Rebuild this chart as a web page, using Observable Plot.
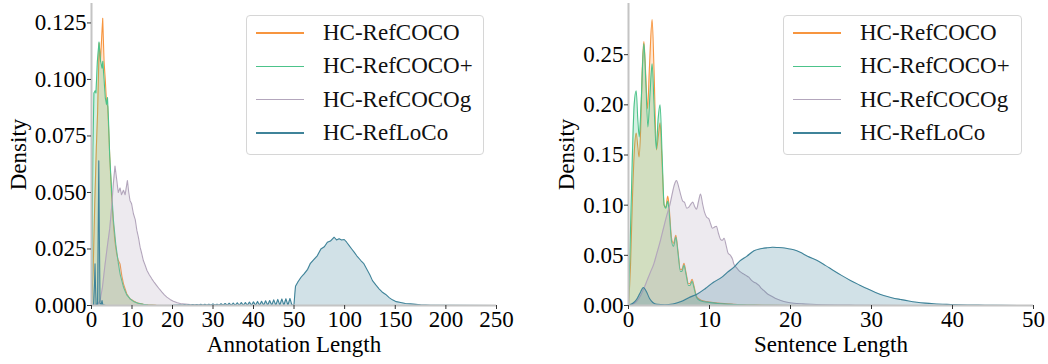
<!DOCTYPE html>
<html>
<head>
<meta charset="utf-8">
<script src="https://cdn.jsdelivr.net/npm/d3@7"></script>
<script src="https://cdn.jsdelivr.net/npm/@observablehq/plot@0.6"></script>
<style>
  html, body { margin: 0; padding: 0; background: #fff; }
  #wrap { position: relative; width: 1048px; height: 364px; display: flex; font-family: "Liberation Serif", "Times New Roman", serif; }
  .legend { position: absolute; top: 15px; height: 140px; border: 1px solid #d6d6d6; border-radius: 4px; background: rgba(255,255,255,0.85); box-sizing: border-box; }
  .row { position: absolute; left: 0; height: 33px; display: flex; align-items: center; font-size: 23px; color: #111; white-space: nowrap; }
  .swatch { width: 48px; height: 1.5px; margin-left: 9px; margin-right: 19px; }
</style>
</head>
<body>
<div id="wrap"></div>
<script>
// ---------- series ----------
const seriesNames = ["HC-RefCOCO", "HC-RefCOCO+", "HC-RefCOCOg", "HC-RefLoCo"];
const seriesColors = ["#F7953F", "#4CC38A", "#B3A6BC", "#3F8399"];

// ---------- Annotation Length (left panel) : [length, density] ----------
const annoRefCOCO = [[0,0],[0.4,0.015],[0.8,0.045],[1.2,0.07],[1.5,0.085],[1.9,0.116],[2.2,0.108],[2.5,0.118],[2.77,0.127],[3.1,0.108],[3.4,0.1],[3.7,0.09],[4.0,0.088],[4.3,0.075],[4.6,0.062],[5.0,0.047],[5.4,0.036],[5.8,0.028],[6.2,0.023],[6.6,0.02],[7.05,0.0184],[7.5,0.013],[7.9,0.0096],[8.7,0.0052],[9.5,0.003],[10.4,0.002],[11.2,0.0012],[12.8,0.0005],[14,0.0003],[16,0.0001],[20,0]];
const annoRefCOCOPlus = [[0,0],[0.15,0.03],[0.35,0.07],[0.6,0.094],[0.9,0.095],[1.1,0.094],[1.45,0.108],[1.85,0.1165],[2.25,0.108],[2.6,0.105],[2.8,0.108],[3.1,0.1],[3.4,0.092],[3.7,0.089],[3.95,0.092],[4.2,0.082],[4.5,0.066],[5.0,0.05],[5.4,0.038],[6.0,0.027],[6.6,0.019],[7.05,0.014],[7.9,0.0081],[8.7,0.0047],[9.5,0.003],[10.35,0.0018],[11.5,0.001],[12.8,0.0005],[14,0.0002],[16,0],[20,0]];
const annoRefCOCOg = [[0,0],[1.5,0.0005],[2.1,0.002],[2.7,0.008],[3.3,0.0175],[3.9,0.026],[4.5,0.034],[5.0,0.044],[5.4,0.054],[5.8,0.0617],[6.2,0.056],[6.6,0.05],[7.05,0.052],[7.4,0.049],[7.9,0.051],[8.3,0.049],[8.87,0.0553],[9.2,0.05],[9.5,0.0465],[9.9,0.045],[10.35,0.0406],[10.8,0.038],[11.2,0.0332],[11.6,0.03],[12,0.0258],[12.4,0.023],[12.8,0.0199],[13.2,0.018],[13.7,0.0155],[14.3,0.0135],[14.9,0.0118],[15.5,0.0102],[16.1,0.0088],[16.8,0.0072],[17.4,0.0059],[18.0,0.0047],[18.6,0.0037],[19.4,0.0027],[20.2,0.0019],[21.2,0.0012],[22.3,0.0007],[24.4,0.0004],[27,0.0002],[30,0.0001],[35,0]];
const annoRefLoCo = [[0,0],[0.5,0],[0.75,0.01],[0.87,0.0185],[1.0,0.008],[1.15,0.0005],[1.5,0.0005],[1.65,0.03],[1.8,0.064],[1.95,0.03],[2.1,0.001],[2.4,0.0005],[2.6,0.0022],[2.8,0.0003],[3.5,0],[10,0],[20,0.0001],
  [22,0.0002],[22.5,0.0001],[23,0.0003],[23.5,0.0001],[24,0.0003],[24.5,0.0001],[25,0.0004],[25.5,0.0001],[26,0.0004],[26.5,0.0001],[27,0.0005],[27.5,0.0001],[28,0.0005],[28.5,0.0001],[29,0.0006],[29.5,0.0001],
  [30,0.0007],[30.5,0.0001],[31,0.0006],[31.5,0.0001],[32,0.0008],[32.5,0.0001],[33,0.0009],[33.5,0.0001],[34,0.001],[34.5,0.0001],[35,0.0011],[35.5,0.0001],[36,0.0012],[36.5,0.0001],[37,0.0013],[37.5,0.0001],[38,0.0013],[38.5,0.0001],[39,0.0015],[39.5,0.0001],
  [40,0.0016],[40.5,0.0001],[41,0.0018],[41.5,0.0001],[42,0.0019],[42.5,0.0001],[43,0.0021],[43.5,0.0001],[44,0.0022],[44.5,0.0001],[45,0.0025],[45.5,0.0001],[46,0.0027],[46.5,0.0001],[47,0.0029],[47.5,0.0001],[48,0.003],[48.5,0.0001],[49,0.0031],[49.5,0.0001],
  [50,0.0003],[50.8,0.005],[51.5,0.0085],[54,0.0105],[57,0.0125],[60,0.014],[63.5,0.016],[66,0.0185],[70,0.0205],[73,0.022],[76.6,0.025],[80,0.026],[83,0.028],[86,0.0285],[89.7,0.0302],[92,0.029],[94.6,0.0295],[97,0.029],[99.6,0.0292],[102,0.028],[104.5,0.0265],[107,0.025],[109.4,0.0236],[112,0.022],[116,0.0199],[119,0.0185],[122.6,0.0155],[125,0.0135],[127.5,0.011],[131,0.009],[134,0.0074],[137,0.006],[140.6,0.0049],[144,0.0035],[147.2,0.0025],[151,0.0017],[155.4,0.0013],[160,0.0009],[165,0.0007],[170,0.0005],[175,0.0003],[185,0.0001],[200,0.00005],[250,0]];

// ---------- Sentence Length (right panel) : [length, density] ----------
const sentRefCOCO = [[0,0],[0.25,0.04],[0.5,0.11],[0.75,0.158],[0.95,0.172],[1.15,0.158],[1.3,0.148],[1.5,0.175],[1.7,0.235],[1.9,0.263],[2.1,0.235],[2.35,0.196],[2.6,0.24],[2.92,0.285],[3.15,0.235],[3.45,0.155],[3.7,0.17],[3.9,0.182],[4.15,0.14],[4.4,0.1],[4.6,0.098],[4.85,0.109],[5.05,0.095],[5.3,0.068],[5.55,0.062],[5.85,0.07],[6.1,0.055],[6.4,0.036],[6.6,0.036],[6.85,0.042],[7.1,0.033],[7.4,0.022],[7.6,0.022],[7.85,0.026],[8.1,0.019],[8.4,0.009],[8.8,0.006],[9.3,0.0045],[10,0.0035],[11,0.0025],[12,0.0018],[13,0.0012],[14,0.0008],[16,0.0004],[18,0.0001],[22,0]];
const sentRefCOCOPlus = [[0,0],[0.2,0.06],[0.45,0.14],[0.7,0.2],[0.95,0.214],[1.15,0.185],[1.33,0.168],[1.55,0.2],[1.9,0.261],[2.15,0.22],[2.39,0.178],[2.65,0.21],[2.92,0.241],[3.15,0.2],[3.43,0.156],[3.65,0.185],[3.9,0.2],[4.15,0.15],[4.4,0.1],[4.6,0.097],[4.85,0.104],[5.05,0.09],[5.3,0.065],[5.55,0.059],[5.85,0.068],[6.1,0.053],[6.4,0.034],[6.6,0.034],[6.85,0.04],[7.1,0.031],[7.4,0.02],[7.6,0.02],[7.85,0.024],[8.1,0.017],[8.4,0.008],[8.8,0.005],[9.3,0.0038],[10,0.003],[11,0.002],[12,0.0014],[13,0.001],[14,0.0006],[16,0.0003],[18,0.0001],[22,0]];
const sentRefCOCOg = [[0,0],[0.5,0.001],[1.0,0.004],[1.5,0.01],[2.0,0.019],[2.3,0.025],[2.7,0.033],[3.13,0.0415],[3.5,0.052],[3.95,0.065],[4.35,0.078],[4.77,0.091],[5.1,0.1],[5.39,0.111],[5.65,0.12],[5.93,0.1245],[6.2,0.118],[6.42,0.111],[6.7,0.104],[6.9,0.103],[7.2,0.097],[7.45,0.098],[7.7,0.101],[7.94,0.103],[8.15,0.099],[8.4,0.096],[8.65,0.104],[8.89,0.111],[9.15,0.101],[9.38,0.093],[9.65,0.088],[9.92,0.0863],[10.15,0.081],[10.35,0.077],[10.6,0.078],[10.85,0.079],[11.1,0.072],[11.36,0.066],[11.6,0.065],[11.8,0.067],[12.05,0.06],[12.3,0.052],[12.6,0.0498],[12.85,0.046],[13.0,0.0415],[13.3,0.038],[13.6,0.035],[13.9,0.033],[14.2,0.0315],[14.5,0.03],[14.85,0.0282],[15.2,0.025],[15.5,0.0232],[15.8,0.022],[16.1,0.02],[16.4,0.017],[16.7,0.015],[17.1,0.012],[17.5,0.01],[18.1,0.0072],[18.8,0.005],[19.6,0.0033],[20.4,0.0023],[21.5,0.0016],[22.5,0.0012],[24,0.0008],[26,0.0005],[28,0.0003],[30,0.0001],[34,0]];
const sentRefLoCo = [[0,0.0005],[0.5,0.002],[1.0,0.006],[1.4,0.012],[1.85,0.018],[2.2,0.014],[2.6,0.007],[3.0,0.003],[3.5,0.0012],[4.5,0.0008],[5.5,0.0015],[6.5,0.004],[7.5,0.008],[8.5,0.0115],[9.5,0.017],[10.5,0.0232],[11.5,0.028],[12.2,0.033],[13.0,0.038],[13.8,0.0448],[14.6,0.049],[15.5,0.0545],[16.3,0.0565],[17.1,0.0575],[17.8,0.058],[18.4,0.0578],[19.0,0.0575],[19.6,0.0568],[20.4,0.0555],[21.2,0.053],[22.1,0.049],[23.3,0.0448],[24.3,0.04],[25.3,0.0349],[26.3,0.03],[27.4,0.025],[28.5,0.0205],[29.5,0.0166],[30.5,0.013],[31.5,0.01],[32.5,0.0078],[33.6,0.006],[34.6,0.0045],[35.6,0.0033],[36.6,0.0024],[37.7,0.0017],[39.8,0.001],[41.8,0.0005],[44,0.0003],[46,0.0001],[50,0]];

// ---------- axes ----------
const annoXDomain = [0, 50, 250];          // piecewise: 0-50 fills the left half, 50-250 the right half
const annoXTicks = [0, 10, 20, 30, 40, 50, 100, 150, 200, 250];
const annoYTicks = [0, 0.025, 0.05, 0.075, 0.1, 0.125];
const annoYMax = 0.1336;
const sentXDomain = [0, 50];
const sentXTicks = [0, 10, 20, 30, 40, 50];
const sentYTicks = [0, 0.05, 0.1, 0.15, 0.2, 0.25];
const sentYMax = 0.301;

const FONT = '"Liberation Serif", "Times New Roman", serif';
const AXIS_GRAY = "#c4c4c4";
const W = 524;

function panel(opts) {
  const marks = [];
  opts.series.forEach((data, i) => {
    const c = seriesColors[i];
    marks.push(Plot.areaY(data, {x: d => d[0], y: d => d[1], fill: c, fillOpacity: 0.24, curve: opts.curve}));
    marks.push(Plot.lineY(data, {x: d => d[0], y: d => d[1], stroke: c, strokeWidth: 1.1, curve: opts.curve}));
  });
  marks.push(Plot.ruleX([opts.xDomain[0]], {stroke: AXIS_GRAY, strokeWidth: 2}));
  marks.push(Plot.ruleY([0], {stroke: AXIS_GRAY, strokeWidth: 2}));
  marks.push(Plot.axisX({ticks: opts.xTicks, tickFormat: d => String(d), tickSize: 4, tickPadding: 1, fontSize: 23,
    stroke: "#333", fill: "#000", label: opts.xLabel, labelAnchor: "center", labelOffset: 46, labelArrow: "none"}));
  marks.push(Plot.axisY({ticks: opts.yTicks, tickFormat: d3.format(opts.yFmt), tickSize: 4, tickPadding: 1, fontSize: 23,
    stroke: "#333", fill: "#000", label: "Density", labelAnchor: "center", labelOffset: opts.yLabelOffset, labelArrow: "none"}));
  // evenly spread range stops for a (piecewise) linear x scale
  const x0 = opts.marginLeft, x1 = W - opts.marginRight, n = opts.xDomain.length;
  const xRange = opts.xDomain.map((_, i) => x0 + (x1 - x0) * i / (n - 1));
  return Plot.plot({
    width: W, height: 364,
    marginTop: 3, marginBottom: 59, marginLeft: opts.marginLeft, marginRight: opts.marginRight,
    style: {fontFamily: FONT, fontSize: "23px", color: "#000", background: "transparent", overflow: "visible"},
    x: {type: "linear", domain: opts.xDomain, range: xRange},
    y: {type: "linear", domain: [0, opts.yMax]},
    marks
  });
}

const wrap = document.getElementById("wrap");
wrap.appendChild(panel({
  series: [annoRefCOCO, annoRefCOCOPlus, annoRefCOCOg, annoRefLoCo],
  xDomain: annoXDomain, xTicks: annoXTicks, yTicks: annoYTicks, yFmt: ".3f", yMax: annoYMax,
  xLabel: "Annotation Length", marginLeft: 91, marginRight: 28, yLabelOffset: 82, curve: "linear"
}));
wrap.appendChild(panel({
  series: [sentRefCOCO, sentRefCOCOPlus, sentRefCOCOg, sentRefLoCo],
  xDomain: sentXDomain, xTicks: sentXTicks, yTicks: sentYTicks, yFmt: ".2f", yMax: sentYMax,
  xLabel: "Sentence Length", marginLeft: 104, marginRight: 15, yLabelOffset: 71, curve: "monotone-x"
}));

function legend(left, width) {
  const box = document.createElement("div");
  box.className = "legend";
  box.style.left = left + "px";
  box.style.width = width + "px";
  seriesNames.forEach((name, i) => {
    const row = document.createElement("div");
    row.className = "row";
    row.style.top = (0.5 + i * 33.3) + "px";
    const sw = document.createElement("div");
    sw.className = "swatch";
    sw.style.background = seriesColors[i];
    const tx = document.createElement("span");
    tx.textContent = name;
    row.appendChild(sw); row.appendChild(tx);
    box.appendChild(row);
  });
  wrap.appendChild(box);
}
legend(246, 238);
legend(783, 239);
</script>
</body>
</html>
